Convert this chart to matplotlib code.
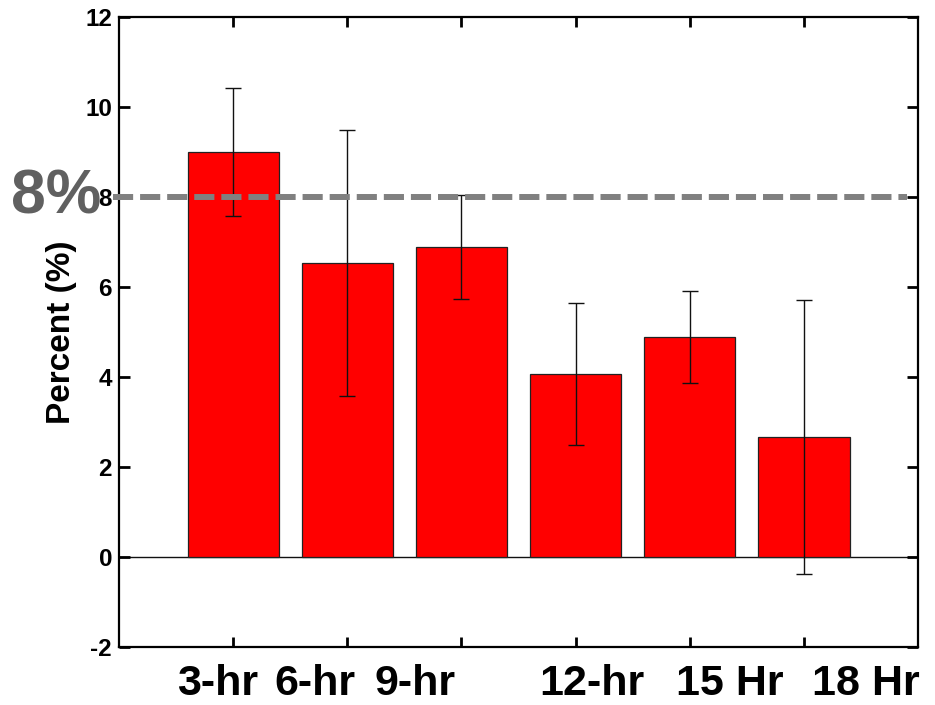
import matplotlib
matplotlib.use("Agg")
import matplotlib.pyplot as plt
from matplotlib.transforms import blended_transform_factory

plt.rcParams['font.family'] = ['Liberation Sans', 'DejaVu Sans']
plt.rcParams['font.weight'] = 'bold'
plt.rcParams['lines.scale_dashes'] = False

# Data
categories = ["3-hr", "6-hr", "9-hr", "12-hr", "15 Hr", "18 Hr"]
percent = [9.00, 6.53, 6.89, 4.07, 4.89, 2.67]
errors = [1.42, 2.95, 1.16, 1.58, 1.03, 3.05]
threshold = 8
y_ticks = [-2, 0, 2, 4, 6, 8, 10, 12]

W, H = 935, 705
fig = plt.figure(figsize=(W / 100, H / 100), dpi=100)
ax = fig.add_axes([0.1273, 0.0823, 0.8545, 0.8936])

x = list(range(1, len(categories) + 1))
ax.bar(x, percent, width=0.8, color='#ff0000', edgecolor='#222222', linewidth=0.9, zorder=2)
ax.errorbar(x, percent, yerr=errors, fmt='none', ecolor='#111111', elinewidth=1.0,
            capsize=6, capthick=1.0, zorder=3)

ax.axhline(0, color='#111111', linewidth=1.0, zorder=1)
ax.axhline(threshold, xmin=-0.0075, xmax=0.986, color='#808080', linewidth=4.3,
           dashes=(14.5, 5.0), clip_on=False, zorder=4)

ax.set_xlim(0, 7)
ax.set_ylim(-2, 12)
ax.set_yticks(y_ticks)
ax.set_yticklabels([str(t) for t in y_ticks])
ax.set_xticks(x)
ax.set_xticklabels([])

ax.tick_params(axis='y', direction='in', length=8, width=2, labelsize=17.5, pad=5,
               left=True, right=True)
ax.tick_params(axis='x', direction='in', length=7, width=2, top=True, bottom=True)
for s in ax.spines.values():
    s.set_linewidth(1.6)
for lab in ax.get_yticklabels():
    lab.set_fontweight('bold')

ax.set_ylabel('Percent (%)', fontsize=24, fontweight='bold')
ax.yaxis.set_label_coords(-0.052, 0.5)

# Threshold annotation at the left margin
tr = blended_transform_factory(fig.transFigure, ax.transData)
ax.text(56 / W, threshold, '8%', transform=tr, ha='center', va='center',
        fontsize=45, fontweight='bold', color='#606060', zorder=5)

# Category labels set in a row beneath the axis
label_centers_px = [218, 315, 415, 592, 730, 866]
for name, cx in zip(categories, label_centers_px):
    fig.text(cx / W, 1 / H, name, ha='center', va='bottom',
             fontsize=31, fontweight='bold', color='black')

fig.savefig('out.png', dpi=100)
